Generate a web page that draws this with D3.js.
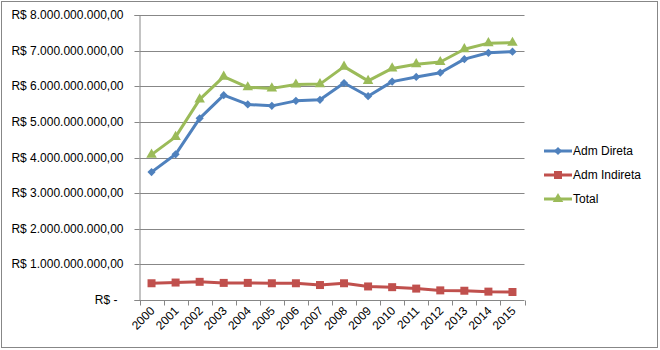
<!DOCTYPE html>
<html>
<head>
<meta charset="utf-8">
<script src="https://cdn.jsdelivr.net/npm/d3@7"></script>
<style>
  html, body { margin: 0; padding: 0; background: #fff; }
  svg text { font-family: "Liberation Sans", Arial, sans-serif; font-size: 12px; fill: #000; }
</style>
</head>
<body>
<svg id="chart" width="660" height="350"></svg>
<script>
// Years on the category axis
const years = ["2000","2001","2002","2003","2004","2005","2006","2007",
               "2008","2009","2010","2011","2012","2013","2014","2015"];

// Spending per year (R$)
const admDireta = [3.59e9, 4.09e9, 5.10e9, 5.75e9, 5.49e9, 5.45e9, 5.59e9, 5.62e9,
                   6.09e9, 5.72e9, 6.13e9, 6.26e9, 6.38e9, 6.76e9, 6.94e9, 6.97e9];
const admIndireta = [0.47e9, 0.49e9, 0.51e9, 0.48e9, 0.48e9, 0.47e9, 0.47e9, 0.42e9,
                     0.47e9, 0.38e9, 0.36e9, 0.32e9, 0.27e9, 0.26e9, 0.235e9, 0.225e9];
const total = [4.08e9, 4.58e9, 5.63e9, 6.27e9, 5.97e9, 5.94e9, 6.05e9, 6.06e9,
               6.55e9, 6.15e9, 6.50e9, 6.62e9, 6.68e9, 7.04e9, 7.21e9, 7.22e9];

// Value axis ticks
const yTicks = [0, 1e9, 2e9, 3e9, 4e9, 5e9, 6e9, 7e9, 8e9];

const seriesNames = ["Adm Direta", "Adm Indireta", "Total"];
const seriesColors = ["#4F81BD", "#C0504D", "#9BBB59"];

const series = [
  { name: seriesNames[0], values: admDireta, color: seriesColors[0], marker: "diamond" },
  { name: seriesNames[1], values: admIndireta, color: seriesColors[1], marker: "square" },
  { name: seriesNames[2], values: total, color: seriesColors[2], marker: "triangle" }
];

const svg = d3.select("#chart");
const gridColor = "#878787";

// outer chart border
svg.append("rect")
  .attr("x", 1.5).attr("y", 1.5)
  .attr("width", 656).attr("height", 346)
  .attr("fill", "#fff")
  .attr("stroke", gridColor).attr("stroke-width", 1);

const plot = { left: 139.5, right: 524.5, top: 15, bottom: 300 };

const x = d3.scaleBand().domain(years).range([plot.left, plot.right]).padding(0);
const y = d3.scaleLinear().domain([0, 8e9]).range([plot.bottom, plot.top]);

// Brazilian currency format for axis labels
function brl(v) {
  if (v === 0) return "R$ -";
  const s = d3.format(",.2f")(v).replace(/,/g, "#").replace(/\./g, ",").replace(/#/g, ".");
  return "R$ " + s;
}

// horizontal gridlines
svg.append("g")
  .selectAll("line")
  .data(yTicks.filter(d => d > 0))
  .join("line")
  .attr("x1", plot.left).attr("x2", plot.right)
  .attr("y1", d => Math.round(y(d)) + 0.5).attr("y2", d => Math.round(y(d)) + 0.5)
  .attr("stroke", gridColor).attr("stroke-width", 1);

// value axis
const yAxis = svg.append("g")
  .attr("transform", `translate(${plot.left},0)`)
  .call(d3.axisLeft(y).tickValues(yTicks).tickFormat(brl).tickSize(5).tickPadding(11));
yAxis.select(".domain").attr("stroke", gridColor);
yAxis.selectAll(".tick line").attr("stroke", gridColor);
yAxis.selectAll(".tick text")
  .attr("fill", "#000")
  .style("font-family", "\"Liberation Sans\", Arial, sans-serif")
  .style("font-size", "12px")
  .attr("dx", d => d === 0 ? -6 : 0);
yAxis.selectAll(".tick").attr("transform", d => `translate(0,${Math.round(y(d)) + 0.5})`);

// category axis
const xAxisG = svg.append("g").attr("transform", `translate(0,${plot.bottom + 0.5})`);
xAxisG.append("line")
  .attr("x1", plot.left).attr("x2", plot.right)
  .attr("stroke", gridColor);
const edges = years.map(d => x(d)).concat([plot.right]);
xAxisG.selectAll("line.tk")
  .data(edges)
  .join("line").attr("class", "tk")
  .attr("x1", d => Math.round(d) + 0.5).attr("x2", d => Math.round(d) + 0.5)
  .attr("y1", 0).attr("y2", 5)
  .attr("stroke", gridColor);
xAxisG.selectAll("text")
  .data(years)
  .join("text")
  .attr("text-anchor", "end")
  .attr("transform", d => `translate(${x(d) + x.bandwidth() / 2 + 4},${11}) rotate(-45)`)
  .text(d => d);

// marker shapes
function markerPath(kind) {
  if (kind === "diamond") return d3.symbol(d3.symbolSquare, 34)();
  if (kind === "square") return d3.symbol(d3.symbolSquare, 64)();
  return d3.symbol(d3.symbolTriangle, 48)();
}
function markerRotate(kind) { return kind === "diamond" ? 45 : 0; }

const line = d3.line()
  .x((d, i) => x(years[i]) + x.bandwidth() / 2)
  .y(d => y(d));

series.forEach(s => {
  const g = svg.append("g");
  g.append("path")
    .datum(s.values)
    .attr("d", line)
    .attr("fill", "none")
    .attr("stroke", s.color)
    .attr("stroke-width", 3)
    .attr("stroke-linejoin", "round");
  g.selectAll("path.m")
    .data(s.values)
    .join("path").attr("class", "m")
    .attr("d", markerPath(s.marker))
    .attr("transform", (d, i) => `translate(${x(years[i]) + x.bandwidth() / 2},${y(d)}) rotate(${markerRotate(s.marker)})`)
    .attr("fill", s.color);
});

// legend
const legend = svg.append("g");
series.forEach((s, i) => {
  const ly = 151 + i * 24;
  legend.append("line")
    .attr("x1", 544).attr("x2", 572)
    .attr("y1", ly).attr("y2", ly)
    .attr("stroke", s.color).attr("stroke-width", 3);
  legend.append("path")
    .attr("d", markerPath(s.marker))
    .attr("transform", `translate(558,${ly}) rotate(${markerRotate(s.marker)})`)
    .attr("fill", s.color);
  legend.append("text")
    .attr("x", 573).attr("y", ly + 4)
    .text(s.name);
});
</script>
</body>
</html>
